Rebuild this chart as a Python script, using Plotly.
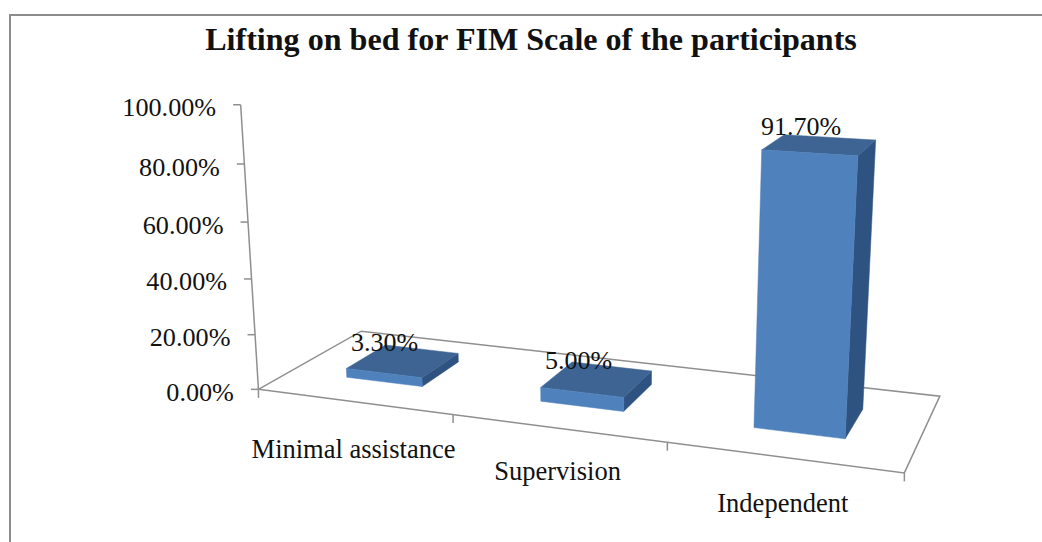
import numpy as np
import plotly.graph_objects as go

# ---- data ----
categories = ["Minimal assistance", "Supervision", "Independent"]
values = [3.30, 5.00, 91.70]
value_labels = ["3.30%", "5.00%", "91.70%"]
axis_ticks = [0, 20, 40, 60, 80, 100]
axis_labels = ["0.00%", "20.00%", "40.00%", "60.00%", "80.00%", "100.00%"]
title = "Lifting on bed for FIM Scale of the participants"

# ---- chart's 3-D view: (category, value 0-1, depth 0-1) -> x/y axis units ----
CAMERA = np.array([
    [173.9185160221865, -29.668601854646777, 147.89758306671564, 258.4512852697423],
    [6.211687406701133, -289.7629867655361, -16.801710407272157, 389.3500357316356],
    [-0.04576098956556349, -0.04933265911270582, 0.12479887977511693, 1.0],
])
GAP = 0.3            # category gap on each side of a bar
DEPTH_GAP = 0.3      # floor depth gap in front of and behind a bar
AXIS_MAX = 100.0
FONT = "Liberation Serif"
GREY = "#8f8f8f"
FRONT, TOP, SIDE = "#4f81bd", "#3d6493", "#2f5380"
CATEGORY_LABEL_DROP = [50, 45, 48]


def proj(c, v, d):
    h = CAMERA @ np.array([c, v, d, 1.0])
    return h[0] / h[2], h[1] / h[2]


def poly(points):
    xy = [proj(*p) for p in points]
    xy.append(xy[0])
    return [p[0] for p in xy], [p[1] for p in xy]


fig = go.Figure()


def line(xs, ys, color=GREY, width=1.5):
    fig.add_trace(go.Scatter(x=xs, y=ys, mode="lines", hoverinfo="skip",
                             line=dict(color=color, width=width)))


def face(points, color):
    xs, ys = poly(points)
    fig.add_trace(go.Scatter(x=xs, y=ys, mode="lines", fill="toself", fillcolor=color,
                             hoverinfo="skip", line=dict(color=color, width=0.5)))


def text(xs, ys, labels, pos, size):
    fig.add_trace(go.Scatter(x=xs, y=ys, mode="text", text=labels, textposition=pos,
                             hoverinfo="skip",
                             textfont=dict(family=FONT, size=size, color="#111111")))


n = len(categories)

# outer chart border (top and left edges)
line([10, 10, 1042], [542, 15, 15], color="#8c8c8c", width=2)

# floor outline
xs, ys = poly([(0, 0, 0), (0, 0, 1), (n, 0, 1), (n, 0, 0)])
line(xs, ys)

# value axis with its ticks
x0, y0 = proj(0, 0, 0)
x1, y1 = proj(0, 1, 0)
line([x0, x1], [y0, y1])
tick_x, tick_y = [], []
for t in axis_ticks:
    tx, ty = proj(0, t / AXIS_MAX, 0)
    line([tx - 7.5, tx], [ty, ty])
    tick_x.append(tx - 24.5)
    tick_y.append(ty + 5)
text(tick_x, tick_y, axis_labels, "middle left", 26.2)

# category ticks
for i in range(n + 1):
    tx, ty = proj(i, 0, 0)
    line([tx, tx], [ty, ty + 8.5])

# bars: right side, top, front
for i, val in enumerate(values):
    v = val / AXIS_MAX
    a, b = i + GAP, i + 1 - GAP
    f, k = DEPTH_GAP, 1 - DEPTH_GAP
    face([(b, 0, f), (b, 0, k), (b, v, k), (b, v, f)], SIDE)
    face([(a, v, f), (b, v, f), (b, v, k), (a, v, k)], TOP)
    face([(a, 0, f), (b, 0, f), (b, v, f), (a, v, f)], FRONT)

# data labels
lab = [proj(i + 0.5, val / AXIS_MAX, 0.5) for i, val in enumerate(values)]
text([p[0] - 18.5 for p in lab], [p[1] - 16.5 for p in lab], value_labels, "middle center", 26)

# category labels
cat = [proj(i + 0.5, 0, 0) for i in range(n)]
text([p[0] for p in cat], [p[1] + dy for p, dy in zip(cat, CATEGORY_LABEL_DROP)],
     categories, "middle center", 26.5)

fig.update_layout(
    width=1042, height=542,
    margin=dict(l=0, r=0, t=0, b=0),
    paper_bgcolor="white", plot_bgcolor="white",
    showlegend=False,
    title=dict(text="<b>" + title + "</b>", x=531 / 1042, xanchor="center",
               y=1 - 39 / 542, yanchor="middle",
               font=dict(family=FONT, size=32.1, color="#111111")),
    xaxis=dict(range=[0, 1042], visible=False, fixedrange=True),
    yaxis=dict(range=[542, 0], visible=False, fixedrange=True),
)
fig.write_html("out.html", config={"displayModeBar": False},
               post_script="document.body.style.margin='0';document.body.style.overflow='hidden';")
